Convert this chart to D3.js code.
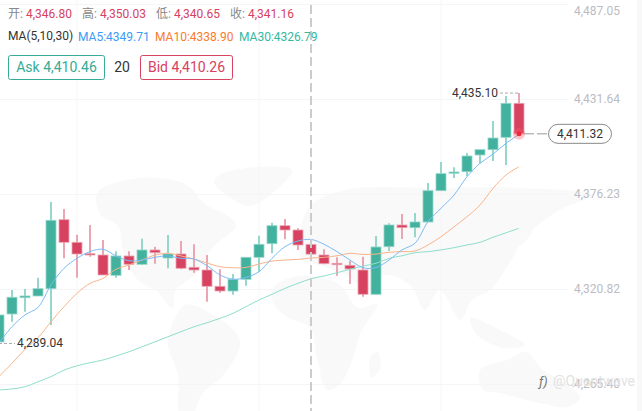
<!DOCTYPE html>
<html>

<head>
    <meta charset="utf-8">
    <style>
        html, body {
            margin: 0;
            padding: 0;
            background: white;
            overflow: hidden;
        }

        svg {
            display: block;
            font-family: 'Roboto', sans-serif;
        }
    </style>
</head>

<body>
    <svg width="642" height="411"></svg>

    <script src="https://d3js.org/d3.v7.min.js"></script>
    <script>
        let opens = [4289.91, 4306.24, 4315.75, 4316.74, 4321.00, 4361.24, 4348.06, 4341.41, 4340.65, 4328.81, 4340.07,
            4335.23, 4343.57, 4338.90, 4341.23, 4333.48, 4331.90, 4322.40, 4319.65, 4326.48, 4339.31,
            4347.24, 4357.74, 4355.23, 4346.80, 4340.65, 4335.81, 4334.64, 4331.90, 4317.73, 4345.49,
            4358.15, 4356.58, 4359.90, 4378.15, 4388.30, 4389.24, 4398.98, 4402.07, 4409.30, 4429.13]
        let highs = [4306.82, 4320.24, 4320.82, 4327.41, 4371.56, 4367.48, 4352.49, 4358.15, 4349.40, 4342.81, 4342.81,
            4350.16, 4345.49, 4352.32, 4348.82, 4346.89, 4340.65, 4332.31, 4329.57, 4339.31, 4351.91,
            4359.49, 4361.65, 4356.22, 4350.03, 4343.98, 4339.31, 4337.33, 4339.66, 4351.73, 4359.14,
            4364.57, 4365.15, 4382.65, 4394.89, 4391.80, 4400.14, 4402.07, 4418.81, 4433.39, 4435.10]
        let lows = [4289.04, 4301.75, 4307.58, 4316.74, 4299.82, 4338.73, 4327.41, 4339.66, 4328.99, 4327.41, 4331.90,
            4334.99, 4335.58, 4332.89, 4332.31, 4330.33, 4313.41, 4318.66, 4317.50, 4322.75, 4330.91,
            4341.64, 4349.81, 4343.57, 4340.65, 4335.23, 4328.58, 4323.74, 4316.33, 4317.73, 4342.98,
            4349.98, 4350.98, 4359.90, 4378.15, 4385.56, 4386.73, 4394.14, 4395.48, 4393.14, 4411.32]
        let closes = [4305.66, 4315.98, 4316.74, 4321.00, 4360.89, 4348.06, 4341.23, 4340.65, 4328.99, 4340.07, 4335.23,
            4343.57, 4341.99, 4341.23, 4332.89, 4331.90, 4322.40, 4319.65, 4326.48, 4339.31, 4346.89,
            4357.74, 4355.23, 4346.48, 4341.16, 4335.58, 4334.99, 4332.49, 4317.73, 4345.32, 4358.15,
            4356.58, 4359.90, 4378.15, 4388.07, 4389.06, 4398.39, 4402.07, 4408.89, 4429.13, 4411.32]

        let ma5 = [4289.3, 4298.8, 4305.7, 4310.1, 4323.2, 4332.9, 4338.7, 4342.6, 4344.0, 4340.1, 4337.3,
            4337.7, 4339.3, 4340.1, 4338.7, 4338.3, 4334.4, 4329.0, 4326.5, 4327.6, 4330.9,
            4338.7, 4345.5, 4348.8, 4349.71, 4346.9, 4342.6, 4337.7, 4333.2, 4333.3, 4337.7,
            4343.6, 4347.5, 4360.1, 4367.9, 4375.6, 4386.3, 4394.1, 4399.5, 4405.8, 4411.0]
        let ma10 = [4269.7, 4277.5, 4285.6, 4292.4, 4301.7, 4310.5, 4318.3, 4324.1, 4327.0, 4332.3, 4334.8,
            4337.7, 4340.6, 4341.6, 4340.1, 4338.3, 4336.0, 4333.8, 4333.2, 4333.4, 4335.4,
            4337.1, 4337.7, 4338.1, 4338.90, 4339.3, 4340.2, 4341.6, 4341.0, 4341.2, 4342.2,
            4342.6, 4343.0, 4346.5, 4351.3, 4357.1, 4363.0, 4369.8, 4379.5, 4387.3, 4392.1]
        let ma30 = [4261.9, 4262.5, 4263.8, 4266.7, 4269.7, 4273.5, 4276.0, 4277.8, 4279.4, 4281.7, 4284.2,
            4287.1, 4290.0, 4293.0, 4295.9, 4298.8, 4301.1, 4303.7, 4306.6, 4310.5, 4314.4,
            4317.7, 4321.2, 4324.1, 4326.79, 4328.4, 4330.3, 4332.3, 4334.2, 4335.8, 4338.7,
            4340.2, 4342.0, 4342.6, 4343.6, 4344.9, 4346.5, 4348.0, 4351.0, 4353.6, 4356.2]

        let yTicks = [4487.05, 4431.64, 4376.23, 4320.82, 4265.40]
        let xGridCandles = [6, 20, 34]
        let crossCandle = 24
        let lastCandle = 40
        let highCandle = 40
        let lowCandle = 0

        let candles = opens.map((o, i) => ({ i: i, o: o, h: highs[i], l: lows[i], c: closes[i] }))

        let width = 642
        let height = 411

        let green = "#42b19e"
        let red = "#d6425f"
        let axisGrey = "#bcbcc2"
        let dark = "#333"

        let svg = d3.select("svg")

        let x = d3.scaleLinear().domain([0, 40]).range([-1, 519])
        let y = d3.scaleLinear().domain([4265.40, 4431.64]).range([384, 99])
        let fmt = d3.format(",.2f")

        // right strip
        svg.append("rect")
            .attr("x", 637).attr("y", 0)
            .attr("width", 5).attr("height", height)
            .style("fill", "#f8f8f8")

        // world map watermark, rough outlines only
        let blobs = [
            [[98, 192], [140, 178], [185, 184], [205, 204], [228, 216], [236, 226], [212, 248], [196, 274], [176, 290], [172, 308], [158, 292], [138, 280], [124, 254], [118, 226], [100, 214]],
            [[170, 330], [185, 305], [206, 311], [240, 340], [224, 374], [202, 394], [192, 415], [180, 415], [178, 375], [168, 346]],
            [[226, 172], [292, 170], [276, 190], [250, 206], [234, 200], [214, 182]],
            [[273, 288], [293, 277], [317, 277], [340, 285], [358, 308], [377, 304], [360, 334], [353, 358], [340, 384], [327, 390], [317, 357], [310, 328], [287, 317], [273, 303]],
            [[300, 236], [310, 206], [345, 190], [440, 188], [520, 188], [592, 195], [560, 210], [526, 236], [510, 262], [490, 290], [472, 300], [460, 320], [440, 290], [425, 310], [410, 285], [385, 275], [370, 290], [345, 275], [320, 265], [302, 260]],
            [[480, 370], [507, 360], [527, 352], [540, 367], [580, 397], [567, 407], [540, 403], [500, 393], [483, 390]],
            [[470, 318], [500, 330], [525, 345], [505, 348], [478, 336]],
            [[370, 358], [378, 352], [380, 368], [372, 378]],
            [[520, 222], [530, 212], [532, 232], [518, 246], [512, 240]]
        ]
        let blobLine = d3.line().curve(d3.curveCatmullRomClosed.alpha(0.5))
        svg.append("g")
            .selectAll("path")
            .data(blobs)
            .join("path")
            .attr("d", d => blobLine(d))
            .style("fill", "#f9f9f9")

        // grid lines
        let grid = svg.append("g")
            .call(d3.axisRight(y).tickValues(yTicks).tickSize(568).tickFormat(""))
        grid.select(".domain").remove()
        grid.selectAll("line").style("stroke", "#f5f5f5")

        svg.append("g")
            .selectAll("line")
            .data(xGridCandles)
            .join("line")
            .attr("x1", d => x(d)).attr("x2", d => x(d))
            .attr("y1", 0).attr("y2", height)
            .style("stroke", "#f6f6f6")

        // y axis labels
        let yAxis = svg.append("g")
            .attr("transform", "translate(574,0)")
            .call(d3.axisRight(y).tickValues(yTicks).tickSize(0).tickPadding(0).tickFormat(fmt))
        yAxis.select(".domain").remove()
        yAxis.selectAll("text")
            .style("font-family", "Roboto, sans-serif")
            .style("font-size", "12px")
            .style("fill", axisGrey)
        // top label is kept inside the chart
        yAxis.selectAll(".tick")
            .filter(d => d == yTicks[0])
            .select("text")
            .attr("dy", "0.32em")
            .attr("y", 7)

        // candles
        let candleG = svg.append("g")
            .selectAll("g")
            .data(candles)
            .join("g")

        candleG.append("line")
            .attr("x1", d => x(d.i)).attr("x2", d => x(d.i))
            .attr("y1", d => y(d.h)).attr("y2", d => y(d.l))
            .style("stroke", d => d.c >= d.o ? "#96d7cb" : "#eaa6b3")
            .style("stroke-width", 2)

        candleG.append("rect")
            .attr("x", d => x(d.i) - 5)
            .attr("y", d => y(Math.max(d.o, d.c)))
            .attr("width", 10)
            .attr("height", d => Math.max(1, Math.abs(y(d.o) - y(d.c))))
            .style("fill", d => d.c >= d.o ? green : red)
            .style("stroke", d => d.c >= d.o ? "#96d7cb" : "#eaa6b3")
            .style("stroke-width", 0.8)

        // moving averages
        let maLine = d3.line()
            .x((d, i) => x(i))
            .y(d => y(d))
            .curve(d3.curveCatmullRom)

        svg.append("path").attr("d", maLine(ma30))
            .style("fill", "none").style("stroke", "#8fdecd").style("stroke-width", 1)
        svg.append("path").attr("d", maLine(ma10))
            .style("fill", "none").style("stroke", "#f9b48b").style("stroke-width", 1)
        svg.append("path").attr("d", maLine(ma5))
            .style("fill", "none").style("stroke", "#79bcf7").style("stroke-width", 1)

        // crosshair
        svg.append("line")
            .attr("x1", x(crossCandle)).attr("x2", x(crossCandle))
            .attr("y1", 5).attr("y2", height)
            .style("stroke", "#cccccc")
            .style("stroke-width", 2)
            .style("stroke-dasharray", "9 4")

        // highest / lowest labels
        let hiY = y(highs[highCandle])
        svg.append("line")
            .attr("x1", 500).attr("x2", x(highCandle)).attr("y1", hiY).attr("y2", hiY)
            .style("stroke", "#aaa").style("stroke-dasharray", "3 2")
        svg.append("text")
            .attr("x", 498).attr("y", hiY)
            .attr("dy", "0.32em").attr("text-anchor", "end")
            .style("font-size", "12px").style("fill", dark)
            .text(fmt(highs[highCandle]))

        let loY = y(lows[lowCandle])
        svg.append("line")
            .attr("x1", x(lowCandle)).attr("x2", 15).attr("y1", loY).attr("y2", loY)
            .style("stroke", "#aaa").style("stroke-dasharray", "3 2")
        svg.append("text")
            .attr("x", 17).attr("y", loY)
            .attr("dy", "0.32em")
            .style("font-size", "12px").style("fill", dark)
            .text(fmt(lows[lowCandle]))

        // last price
        let lastY = y(closes[lastCandle])
        svg.append("circle")
            .attr("cx", x(lastCandle)).attr("cy", lastY).attr("r", 6)
            .style("fill", "#ff5a6a").style("fill-opacity", 0.35)
        svg.append("circle")
            .attr("cx", x(lastCandle)).attr("cy", lastY).attr("r", 2.5)
            .style("fill", "#f02a3c")
        svg.append("line")
            .attr("x1", x(lastCandle) + 5).attr("x2", 548).attr("y1", lastY).attr("y2", lastY)
            .style("stroke", "#999").style("stroke-dasharray", "10 3")
        svg.append("rect")
            .attr("x", 548.5).attr("y", lastY - 9.5)
            .attr("width", 63).attr("height", 19).attr("rx", 9.5)
            .style("fill", "white").style("stroke", "#888")
        svg.append("text")
            .attr("x", 580).attr("y", lastY)
            .attr("dy", "0.32em").attr("text-anchor", "middle")
            .style("font-size", "12px").style("fill", dark)
            .text(fmt(closes[lastCandle]))

        // header, open high low close of the hovered candle
        let ohlcLabels = ["开:", "高:", "低:", "收:"]
        let hover = candles[crossCandle]
        let ohlcValues = [hover.o, hover.h, hover.l, hover.c]
        let ohlcX = [8, 82, 156, 230]
        ohlcLabels.forEach((label, i) => {
            svg.append("text").attr("x", ohlcX[i]).attr("y", 18)
                .style("font-family", "Roboto, 'Noto Sans CJK SC', sans-serif")
                .style("font-size", "12px").style("fill", "#888")
                .text(label)
            svg.append("text").attr("x", ohlcX[i] + 18).attr("y", 18)
                .style("font-size", "12px").style("fill", red)
                .text(fmt(ohlcValues[i]))
        })

        svg.append("text").attr("x", 8).attr("y", 40)
            .style("font-size", "12px").style("fill", "#333")
            .text("MA(5,10,30)")
        svg.append("text").attr("x", 78).attr("y", 41)
            .style("font-size", "12px").style("fill", "#3b9cf5")
            .text("MA5:" + ma5[crossCandle].toFixed(2))
        svg.append("text").attr("x", 155).attr("y", 41)
            .style("font-size", "12px").style("fill", "#f97c2a")
            .text("MA10:" + ma10[crossCandle].toFixed(2))
        svg.append("text").attr("x", 239).attr("y", 41)
            .style("font-size", "12px").style("fill", "#36b89f")
            .text("MA30:" + ma30[crossCandle].toFixed(2))

        // ask / bid boxes
        let askText = "Ask 4,410.46"
        let spreadText = "20"
        let bidText = "Bid 4,410.26"

        svg.append("rect")
            .attr("x", 8.5).attr("y", 55.5).attr("width", 96).attr("height", 24).attr("rx", 2)
            .style("fill", "white").style("stroke", "#36ab96")
        svg.append("text").attr("x", 56.5).attr("y", 67.5)
            .attr("dy", "0.35em").attr("text-anchor", "middle")
            .style("font-size", "14px").style("fill", "#36ab96")
            .text(askText)
        svg.append("text").attr("x", 122).attr("y", 67.5)
            .attr("dy", "0.35em").attr("text-anchor", "middle")
            .style("font-size", "14px").style("fill", dark)
            .text(spreadText)
        svg.append("rect")
            .attr("x", 140.5).attr("y", 55.5).attr("width", 92).attr("height", 24).attr("rx", 2)
            .style("fill", "white").style("stroke", red)
        svg.append("text").attr("x", 186.5).attr("y", 67.5)
            .attr("dy", "0.35em").attr("text-anchor", "middle")
            .style("font-size", "14px").style("fill", red)
            .text(bidText)

        // watermark
        svg.append("text").attr("x", 539).attr("y", 386)
            .style("font-size", "13px").style("font-style", "italic").style("fill", "#777")
            .text("ƒ)")
        svg.append("text").attr("x", 553).attr("y", 386)
            .style("font-size", "14px").style("fill", "#e2e2e2")
            .text("@Quantwave")
    </script>
</body>

</html>
